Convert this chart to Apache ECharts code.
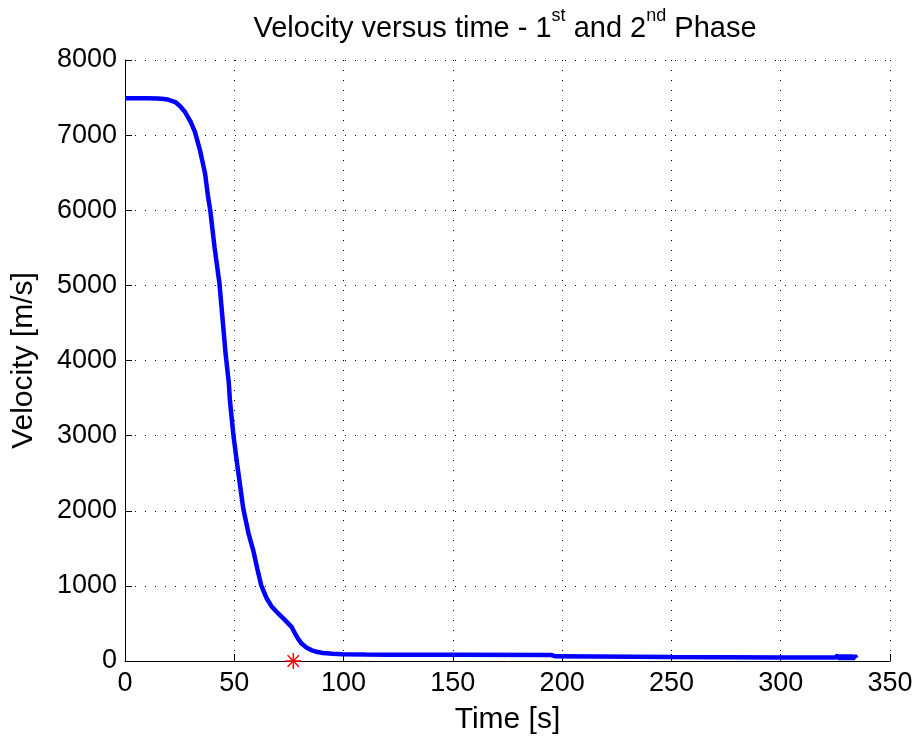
<!DOCTYPE html>
<html>
<head>
<meta charset="utf-8">
<script src="https://cdn.jsdelivr.net/npm/echarts@6/dist/echarts.min.js"></script>
<style>html,body{margin:0;padding:0;background:#fff}#c{width:917px;height:740px}</style>
</head>
<body>
<div id="c"></div>
<script>
var timeS = [0, 5, 10, 15, 18, 20, 23, 25, 27.4, 30, 32, 34.3, 36.6, 38, 39, 41, 43.2, 44.5, 46, 47.5, 48, 49.6, 51.5, 54.1, 56.5, 58.7, 60.5, 62.3, 64.8, 67, 70.2, 73, 76.2, 77.8, 79.3, 80.8, 83, 85.4, 88, 90.6, 95, 99.7, 110, 120, 150, 195, 197, 250, 300, 325, 326, 327, 328, 329, 330, 331, 332, 333, 334, 334.7];
var velocity = [7490, 7490, 7490, 7488, 7480, 7470, 7440, 7390, 7310, 7180, 7044, 6800, 6494, 6180, 6000, 5500, 5030, 4600, 4095, 3700, 3470, 3005, 2580, 2030, 1700, 1470, 1230, 1010, 835, 730, 630, 550, 455, 365, 290, 232, 180, 142, 120, 107, 98, 89, 86, 84, 82, 80, 62, 52, 48, 45, 75, 25, 75, 25, 75, 25, 75, 25, 70, 40];
var markerTime = [77];
var markerVelocity = [0];
var xTicks = [0, 50, 100, 150, 200, 250, 300, 350];
var yTicks = [0, 1000, 2000, 3000, 4000, 5000, 6000, 7000, 8000];

var FONT = 'Liberation Sans';
var lineData = timeS.map(function (t, i) { return [t, velocity[i]]; });
var markData = markerTime.map(function (t, i) { return [t, markerVelocity[i]]; });

var chart = echarts.init(document.getElementById('c'), null, {renderer: 'canvas'});
var gridLine = {show: true, lineStyle: {color: '#000', width: 1, type: [1, 9]}};
chart.setOption({
  animation: false,
  backgroundColor: '#fff',
  title: {
    text: '{a|Velocity versus time - 1}{s|st}{a| and 2}{s|nd}{a| Phase}',
    left: 500, top: 2, textAlign: 'center',
    textStyle: {
      fontWeight: 'normal',
      rich: {
        a: {fontFamily: FONT, fontSize: 29, fontWeight: 'normal', color: '#000', verticalAlign: 'bottom', lineHeight: 36},
        s: {fontFamily: FONT, fontSize: 18, fontWeight: 'normal', color: '#000', verticalAlign: 'top', lineHeight: 36, padding: [0, 0, 12, 0]}
      }
    }
  },
  grid: {left: 125, right: 27, top: 60, bottom: 79, containLabel: false},
  xAxis: {
    type: 'value', min: xTicks[0], max: xTicks[xTicks.length - 1], interval: 50,
    name: 'Time [s]', nameLocation: 'middle', nameGap: 44,
    nameTextStyle: {fontFamily: FONT, fontSize: 30, color: '#000'},
    axisLine: {show: true, onZero: false, lineStyle: {color: '#000', width: 1}},
    axisTick: {show: true, inside: true, length: 7, lineStyle: {color: '#000'}},
    axisLabel: {fontFamily: FONT, fontSize: 27, color: '#000', margin: 9,
      formatter: function (v) { return String(v); }},
    splitLine: gridLine
  },
  yAxis: {
    type: 'value', min: yTicks[0], max: yTicks[yTicks.length - 1], interval: 1000,
    name: 'Velocity [m/s]', nameLocation: 'middle', nameGap: 86,
    nameTextStyle: {fontFamily: FONT, fontSize: 30, color: '#000'},
    axisLine: {show: true, onZero: false, lineStyle: {color: '#000', width: 1}},
    axisTick: {show: true, inside: true, length: 7, lineStyle: {color: '#000'}},
    axisLabel: {fontFamily: FONT, fontSize: 27, color: '#000', margin: 8,
      formatter: function (v) { return String(v); }},
    splitLine: gridLine
  },
  series: [
    {
      type: 'line', data: lineData, showSymbol: false, symbol: 'none',
      lineStyle: {color: '#0000ff', width: 4.5}, z: 3, clip: true
    },
    {
      type: 'custom', data: markData, z: 4, clip: false,
      renderItem: function (params, api) {
        var p = api.coord([api.value(0), api.value(1)]);
        var r = 8, d = 5.7;
        var segs = [[0, -r, 0, r], [-r, 0, r, 0], [-d, -d, d, d], [-d, d, d, -d]];
        return {
          type: 'group',
          children: segs.map(function (s) {
            return {type: 'line', shape: {x1: p[0] + s[0], y1: p[1] + s[1], x2: p[0] + s[2], y2: p[1] + s[3]},
              style: {stroke: '#ff0000', lineWidth: 1.5}};
          })
        };
      }
    }
  ]
});
</script>
</body>
</html>
